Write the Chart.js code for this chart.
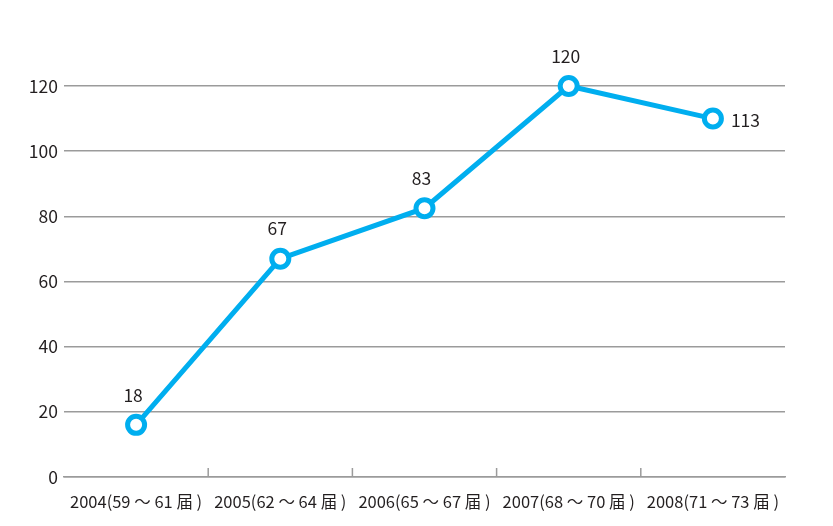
<!DOCTYPE html>
<html>
<head>
<meta charset="utf-8">
<script src="https://cdn.jsdelivr.net/npm/chart.js@4"></script>
<style>
  body { margin: 0; background: #fff; }
</style>
</head>
<body>
<canvas id="myChart" width="833" height="526"></canvas>
<script>
// DATOS
const categorias = ["2004(59 ～ 61 届 )", "2005(62 ～ 64 届 )", "2006(65 ～ 67 届 )", "2007(68 ～ 70 届 )", "2008(71 ～ 73 届 )"];
const valores = [16, 67, 82.5, 120, 110];
const etiquetas = ["18", "67", "83", "120", "113"];
const ticksY = [0, 20, 40, 60, 80, 100, 120];

const azul = "rgb(0,174,239)";
const gris = "#9b9b9b";
const texto = "#231f20";
const fuente = "'Noto Sans CJK SC', 'Noto Sans', sans-serif";

// etiquetas de los puntos (la ultima va a la derecha)
const etiquetasPlugin = {
  id: "etiquetas",
  afterDatasetsDraw(chart) {
    const ctx = chart.ctx;
    const meta = chart.getDatasetMeta(0);
    ctx.save();
    ctx.font = "17.5px " + fuente;
    ctx.fillStyle = texto;
    meta.data.forEach((p, i) => {
      if (i == meta.data.length - 1) {
        ctx.textAlign = "left";
        ctx.textBaseline = "middle";
        ctx.fillText(etiquetas[i], p.x + 18, p.y + 2);
      } else {
        ctx.textAlign = "center";
        ctx.textBaseline = "middle";
        ctx.fillText(etiquetas[i], p.x - 3, p.y - 30);
      }
    });
    ctx.restore();
  },
};

// marcas del eje x hacia arriba, entre categorias
const marcasPlugin = {
  id: "marcas",
  beforeDatasetsDraw(chart) {
    const ctx = chart.ctx;
    const x = chart.scales.x;
    const abajo = chart.chartArea.bottom;
    ctx.save();
    ctx.strokeStyle = gris;
    ctx.lineWidth = 1.5;
    for (let i = 1; i < categorias.length; i++) {
      const px = (x.getPixelForTick(i - 1) + x.getPixelForTick(i)) / 2;
      ctx.beginPath();
      ctx.moveTo(px, abajo - 9);
      ctx.lineTo(px, abajo);
      ctx.stroke();
    }
    ctx.restore();
  },
};

const config = {
  type: "line",
  data: {
    labels: categorias,
    datasets: [
      {
        data: valores,
        borderColor: azul,
        borderWidth: 5,
        pointRadius: 8.5,
        pointBorderWidth: 5,
        pointBackgroundColor: "#fff",
        pointBorderColor: azul,
        tension: 0,
        clip: false,
      },
    ],
  },
  plugins: [marcasPlugin, etiquetasPlugin],
  options: {
    responsive: false,
    animation: false,
    layout: { padding: { top: 86, right: 48, left: 0, bottom: 0 } },
    plugins: {
      legend: { display: false },
      tooltip: { enabled: false },
    },
    scales: {
      x: {
        offset: true,
        grid: { display: false },
        border: { display: true, color: gris, width: 1.5 },
        ticks: {
          color: texto,
          font: { family: fuente, size: 16.5 },
          padding: 7,
          maxRotation: 0,
          autoSkip: false,
        },
        afterFit(scale) {
          scale.height = 49;
        },
      },
      y: {
        min: 0,
        max: 120,
        afterBuildTicks(scale) {
          scale.ticks = ticksY.map((v) => ({ value: v }));
        },
        grid: { color: gris, lineWidth: 1.5, drawTicks: false },
        border: { display: false },
        ticks: {
          color: texto,
          font: { family: fuente, size: 17.5 },
          padding: 6,
        },
        afterFit(scale) {
          scale.width = 64;
        },
      },
    },
  },
};

const myChart = new Chart(document.getElementById("myChart"), config);
</script>
</body>
</html>
